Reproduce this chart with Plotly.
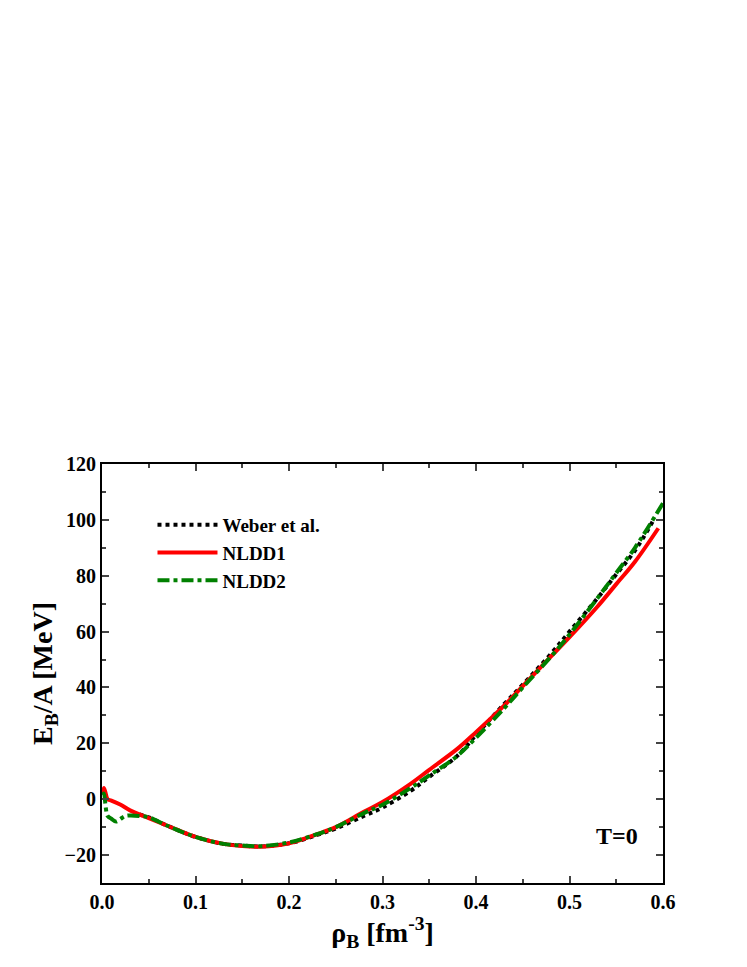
import plotly.graph_objects as go

# Weber et al.
rho_weber = [0.04, 0.05, 0.07, 0.1, 0.13, 0.15, 0.17, 0.2, 0.23, 0.25, 0.28, 0.3, 0.33, 0.35, 0.38, 0.4, 0.43, 0.45, 0.48, 0.5, 0.53, 0.55, 0.57, 0.59]
e_weber = [-5.5, -6.5, -9.5, -13.5, -16.0, -16.6, -16.9, -15.8, -12.8, -10.5, -6.0, -3.0, 3.0, 8.0, 15.5, 23.0, 34.0, 41.0, 52.0, 60.0, 72.0, 80.5, 89.0, 100.0]

# NLDD1
rho_n1 = [0.0005, 0.002, 0.004, 0.006, 0.01, 0.02, 0.03, 0.05, 0.07, 0.1, 0.13, 0.15, 0.17, 0.2, 0.23, 0.25, 0.28, 0.3, 0.33, 0.35, 0.38, 0.4, 0.43, 0.45, 0.48, 0.5, 0.53, 0.55, 0.57, 0.595]
e_n1 = [2.0, 4.0, 2.0, 0.0, -0.5, -2.0, -4.0, -6.8, -9.5, -13.5, -16.0, -16.8, -17.0, -15.8, -12.5, -10.0, -4.5, -1.0, 5.5, 10.5, 18.0, 24.0, 33.5, 40.5, 51.0, 58.0, 69.0, 77.0, 85.0, 97.0]

# NLDD2
rho_n2 = [0.0005, 0.002, 0.004, 0.006, 0.01, 0.015, 0.02, 0.025, 0.03, 0.04, 0.05, 0.07, 0.1, 0.13, 0.15, 0.17, 0.2, 0.23, 0.25, 0.28, 0.3, 0.33, 0.35, 0.38, 0.4, 0.43, 0.45, 0.48, 0.5, 0.53, 0.55, 0.57, 0.6]
e_n2 = [1.5, 2.0, -3.0, -6.0, -7.0, -8.0, -7.0, -6.0, -5.8, -6.0, -6.5, -9.5, -13.5, -16.0, -16.6, -16.8, -15.5, -12.5, -10.0, -5.0, -2.0, 4.0, 8.5, 15.5, 22.0, 32.5, 40.0, 51.0, 59.0, 72.0, 81.0, 90.0, 106.0]

fig = go.Figure()
fig.add_trace(go.Scatter(x=rho_weber, y=e_weber, name='<b>Weber et al.</b>', mode='lines',
                         line=dict(color='black', width=4, dash='dot', shape='spline')))
fig.add_trace(go.Scatter(x=rho_n1, y=e_n1, name='<b>NLDD1</b>', mode='lines',
                         line=dict(color='red', width=4, shape='spline')))
fig.add_trace(go.Scatter(x=rho_n2, y=e_n2, name='<b>NLDD2</b>', mode='lines',
                         line=dict(color='green', width=4, dash='dashdot', shape='spline')))

fig.add_annotation(x=0.575, y=-13, text='<b>T=0</b>', showarrow=False,
                   font=dict(size=24, color='black'), xanchor='right')

axis = dict(showgrid=False, zeroline=False, showline=True, linecolor='black', linewidth=2,
            mirror='ticks', ticks='inside', ticklen=7, tickwidth=2,
            minor=dict(ticks='inside', ticklen=4, tickwidth=2),
            tickfont=dict(size=20, color='black', family='Liberation Serif', weight='bold'))

fig.update_layout(
    width=747, height=967,
    plot_bgcolor='white', paper_bgcolor='white',
    font=dict(family='Liberation Serif', color='black'),
    margin=dict(l=94, r=92, t=456, b=92),
    xaxis=dict(axis, range=[0, 0.6], dtick=0.1, tickformat='.1f', minor=dict(axis['minor'], dtick=0.05),
               title=dict(text='<b>ρ<sub>B</sub> [fm<sup>-3</sup>]</b>', font=dict(size=28), standoff=2)),
    yaxis=dict(axis, range=[-30, 120], dtick=20, minor=dict(axis['minor'], dtick=10),
               title=dict(text='<b>E<sub>B</sub>/A [MeV]</b>', font=dict(size=28), standoff=4)),
    legend=dict(x=0.09, y=0.9, bgcolor='rgba(0,0,0,0)', font=dict(size=19),
                itemwidth=60, tracegroupgap=0),
)

fig.write_html('out.html')
